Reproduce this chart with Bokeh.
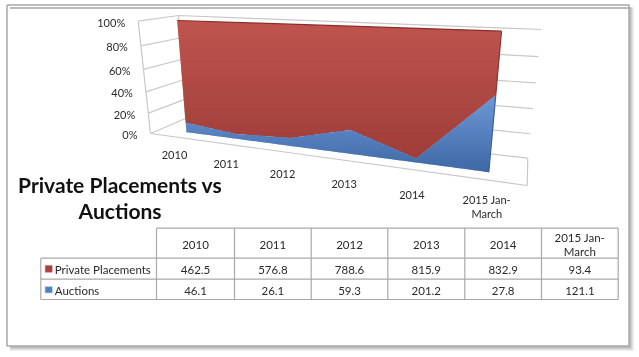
from bokeh.plotting import figure
from bokeh.embed import file_html
from bokeh.resources import INLINE
from bokeh.core.properties import value
import numpy as np

categories = ["2010", "2011", "2012", "2013", "2014", "2015 Jan-\nMarch"]
private_placements = [462.5, 576.8, 788.6, 815.9, 832.9, 93.4]
auctions = [46.1, 26.1, 59.3, 201.2, 27.8, 121.1]
pct_ticks = ["0%", "20%", "40%", "60%", "80%", "100%"]
series_names = ["Private Placements", "Auctions"]
private_text = ["462.5", "576.8", "788.6", "815.9", "832.9", "93.4"]
auction_text = ["46.1", "26.1", "59.3", "201.2", "27.8", "121.1"]
title_lines = ["Private Placements vs", "Auctions"]

FONT = value("Lato")
TXT = "#2a2a2a"
GRID = "#c8c8c8"


def homography(c00, c10, c11, c01):
    src = [(0, 0), (1, 0), (1, 1), (0, 1)]
    dst = [c00, c10, c11, c01]
    A, b = [], []
    for (u, v), (x, y) in zip(src, dst):
        A.append([u, v, 1, 0, 0, 0, -u * x, -v * x]); b.append(x)
        A.append([0, 0, 0, u, v, 1, -u * y, -v * y]); b.append(y)
    h = np.linalg.solve(np.array(A, float), np.array(b, float))
    H = np.append(h, 1).reshape(3, 3)

    def f(u, v):
        w = H @ np.array([u, v, 1.0])
        return w[0] / w[2], w[1] / w[2]
    return f


front = homography((186, 131.7), (488.3, 171.7), (501, 30.7), (176.7, 20))
back = homography((185, 118), (527.3, 157.7), (540.7, 29), (178, 15))
side = homography((150, 133), (185, 118), (178, 15), (137.7, 20.7))


def clip(poly, y, keep_below):
    out = []
    n = len(poly)
    for i in range(n):
        a, b = poly[i], poly[(i + 1) % n]
        ina = a[1] >= y if keep_below else a[1] <= y
        inb = b[1] >= y if keep_below else b[1] <= y
        if ina:
            out.append(a)
        if ina != inb:
            t = (y - a[1]) / (b[1] - a[1])
            out.append((a[0] + t * (b[0] - a[0]), y))
    return out


def mix(c1, c2, t):
    t = min(max(t, 0), 1)
    return "#%02x%02x%02x" % tuple(int(round(a + (b - a) * t)) for a, b in zip(c1, c2))


p = figure(width=639, height=357, x_range=(0, 639), y_range=(357, 0),
           output_backend="svg", toolbar_location=None, min_border=0,
           outline_line_color=None,
           background_fill_color="white", border_fill_color="white")
p.styles = {"filter": "blur(0.35px)"}
p.axis.visible = False
p.grid.visible = False


def gradient(poly, c_top, c_bot, y0, y1):
    ys = [q[1] for q in poly]
    y = min(ys)
    end = max(ys)
    while y < end:
        part = clip(clip(poly, y, True), y + 3, False)
        if len(part) >= 3:
            p.patch([q[0] for q in part], [q[1] for q in part], line_color=None,
                    fill_color=mix(c_top, c_bot, (y + 1 - y0) / (y1 - y0)))
        y += 2


# slide frame with its shadow
L, T, R, B = 6.5, 4.5, 628.5, 345.5
for off, col, w in [(4, "#efefef", 2), (3, "#dcdcdc", 1.5), (2, "#c8c8c8", 1.5), (1, "#b4b4b4", 1.5)]:
    p.line([L + 3, R + off, R + off, L + 3], [T + 3, T + 3, B + off, B + off], line_color=col, line_width=w)
p.line([L, R, R, L, L], [T, T, B, B, T], line_color="#a8a8a8", line_width=1.5)

# walls and floor
n_ticks = len(pct_ticks)
for k in range(n_ticks):
    v = k / (n_ticks - 1)
    a = side(0, v)
    b = side(1, v)
    c = back(1, v)
    p.line([a[0], b[0], c[0]], [a[1], b[1], c[1]], line_color=GRID, line_width=1.2)
a, b = side(0, 0), side(0, 1)
p.line([a[0], b[0]], [a[1], b[1]], line_color=GRID, line_width=1.2)
a, b = side(1, 0), side(1, 1)
p.line([a[0], b[0]], [a[1], b[1]], line_color=GRID, line_width=1.2)
floor_corner = (526.7, 185)
a, b = side(0, 0), back(1, 0)
p.line([a[0], floor_corner[0], b[0]], [a[1], floor_corner[1], b[1]], line_color=GRID, line_width=1.2)

# stacked area
n = len(categories)
shares = [x / (x + y) for x, y in zip(auctions, private_placements)]
us = [i / (n - 1) for i in range(n)]
lower = [front(u, 0) for u in us]
mid = [front(u, s) for u, s in zip(us, shares)]
upper = [front(u, 1) for u in us]
gradient(upper + mid[::-1], (192, 84, 78), (158, 61, 57), 20, 160)
gradient(mid + lower[::-1], (110, 151, 214), (62, 104, 166), 95, 172)

p.line([upper[0][0], upper[-1][0]], [upper[0][1], upper[-1][1]], line_color="#8c2c28", line_width=1.2)
p.line([upper[-1][0], mid[-1][0]], [upper[-1][1], mid[-1][1]], line_color="#8c3430", line_width=1.2)
p.line([mid[-1][0], lower[-1][0]], [mid[-1][1], lower[-1][1]], line_color="#3a6199", line_width=1.2)


def put(xs, ys, texts, size, align="center", color=TXT, style="normal"):
    p.text(xs, ys, text=texts, text_font=FONT, text_font_size=size, text_color=color,
           text_align=align, text_baseline="middle", text_font_style=style)


# axis labels
xs, ys = [], []
for k in range(n_ticks):
    q = side(0, k / (n_ticks - 1))
    xs.append(q[0] - 13); ys.append(q[1] + 1)
put(xs, ys, pct_ticks, "11px", align="right")

for i, lab in enumerate(categories):
    t = i / (n - 1)
    x = lower[i][0] - 12 + 10 * t
    y = lower[i][1] + 23 + 11.5 * t
    parts = lab.split("\n")
    for j, part in enumerate(parts):
        put([x], [y + (j - (len(parts) - 1) / 2) * 14.3], [part], "11px")

# title
put([119.6], [184], [title_lines[0]], "21px", style="bold", color="#111111")
put([119.6], [209.7], [title_lines[1]], "21px", style="bold", color="#111111")

# data table
col_x = [156, 234, 310.7, 387.3, 464.3, 541, 617.7]
row_y = [227.7, 257.7, 278.7, 299]
tbl_left = 40.3
LINE = "#a9a9a9"
for i, x in enumerate(col_x):
    p.line([x, x], [row_y[0], row_y[-1]], line_color=LINE, line_width=1.2)
p.line([tbl_left, tbl_left], [row_y[1], row_y[-1]], line_color=LINE, line_width=1.2)
for j, y in enumerate(row_y):
    p.line([col_x[0] if j == 0 else tbl_left, col_x[-1]], [y, y], line_color=LINE, line_width=1.2)

centres = [(col_x[i] + col_x[i + 1]) / 2 for i in range(len(col_x) - 1)]
for c, lab, a_txt, b_txt in zip(centres, categories, private_text, auction_text):
    parts = lab.split("\n")
    for j, part in enumerate(parts):
        put([c], [244 + (j - (len(parts) - 1) / 2) * 14.4], [part], "11.5px")
    put([c], [269.3], [a_txt], "11.5px")
    put([c], [290], [b_txt], "11.5px")

p.quad(left=[44.7], right=[51.7], top=[265], bottom=[271.7], fill_color="#a8423f", line_color="#b9706d", line_width=0.5)
p.quad(left=[44.7], right=[51.7], top=[286.3], bottom=[292.3], fill_color="#4f81bd", line_color="#7fa3d0", line_width=0.5)
put([54.3], [269.3], [series_names[0]], "11.5px", align="left")
put([54.3], [290], [series_names[1]], "11.5px", align="left")

open("out.html", "w").write(file_html(p, INLINE))
